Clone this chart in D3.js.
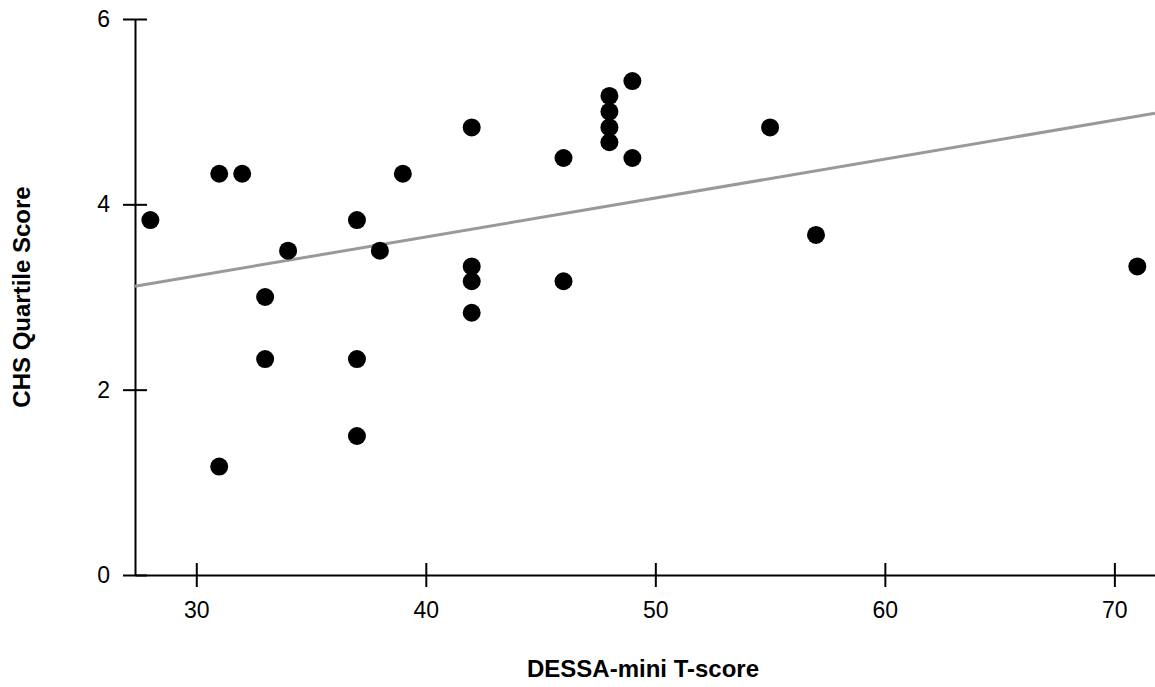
<!DOCTYPE html>
<html lang="en">
<head>
<meta charset="UTF-8">
<title>DESSA-mini vs CHS</title>
<script src="https://d3js.org/d3.v7.min.js"></script>
<style>
  body { margin: 0; background: #fff; }
  .axis text { font: 23px "Liberation Sans", Arial, Helvetica, sans-serif; fill: #000; }
  .axis path, .axis line { stroke: #000; stroke-width: 2px; }
  .title { font: bold 24px "Liberation Sans", Arial, Helvetica, sans-serif; fill: #000; }
  .fit { stroke: #999; stroke-width: 3px; fill: none; }
</style>
</head>
<body>
<div id="chart"></div>
<script>
// DESSA-mini T-score for each child
const dessa = [28, 31, 32, 31, 34, 33, 33, 37, 37, 37, 38, 39, 42, 42, 42, 42,
               46, 46, 48, 48, 48, 48, 49, 49, 55, 57, 71];
// CHS quartile score, same order
const chs = [3.83, 4.33, 4.33, 1.17, 3.5, 3.0, 2.33, 3.83, 2.33, 1.5, 3.5, 4.33,
             4.83, 3.33, 3.17, 2.83, 4.5, 3.17, 5.17, 5.0, 4.83, 4.67, 5.33, 4.5,
             4.83, 3.67, 3.33];
const xTicks = [30, 40, 50, 60, 70];
const yTicks = [0, 2, 4, 6];

const width = 1155, height = 687;
const points = dessa.map((d, i) => ({x: d, y: chs[i]}));

const x = d3.scaleLinear().domain([27.33, 71.77]).range([135, 1155]);
const y = d3.scaleLinear().domain([0, 6]).range([575, 19]);

const svg = d3.select("#chart").append("svg")
  .attr("width", width)
  .attr("height", height);

// least squares fit
const mx = d3.mean(dessa), my = d3.mean(chs);
const sxy = d3.sum(points, p => (p.x - mx) * (p.y - my));
const sxx = d3.sum(points, p => (p.x - mx) * (p.x - mx));
const slope = sxy / sxx, icpt = my - slope * mx;

const gx = svg.append("g")
  .attr("class", "axis")
  .attr("transform", `translate(0,${y(0)})`)
  .call(d3.axisBottom(x).tickValues(xTicks).tickSizeOuter(0).tickFormat(d3.format("d")));
gx.selectAll(".tick line").attr("y1", -12).attr("y2", 12);
gx.selectAll(".tick text").attr("y", 27);

const gy = svg.append("g")
  .attr("class", "axis")
  .attr("transform", `translate(${x.range()[0]},0)`)
  .call(d3.axisLeft(y).tickValues(yTicks).tickSizeOuter(0).tickFormat(d3.format("d")));
gy.selectAll(".tick line").attr("x1", -12).attr("x2", 12);
gy.selectAll(".tick text").attr("x", -25);

const dom = x.domain();
svg.append("line")
  .attr("class", "fit")
  .attr("x1", x(dom[0])).attr("y1", y(icpt + slope * dom[0]))
  .attr("x2", x(dom[1])).attr("y2", y(icpt + slope * dom[1]));

svg.append("g").selectAll("circle")
  .data(points)
  .join("circle")
  .attr("cx", d => x(d.x))
  .attr("cy", d => y(d.y))
  .attr("r", 9)
  .attr("fill", "#000");

svg.append("text")
  .attr("class", "title")
  .attr("text-anchor", "middle")
  .attr("x", 643)
  .attr("y", 677)
  .text("DESSA-mini T-score");

svg.append("text")
  .attr("class", "title")
  .attr("text-anchor", "middle")
  .attr("transform", `translate(30,${(y(0) + y(6)) / 2}) rotate(-90)`)
  .text("CHS Quartile Score");
</script>
</body>
</html>
